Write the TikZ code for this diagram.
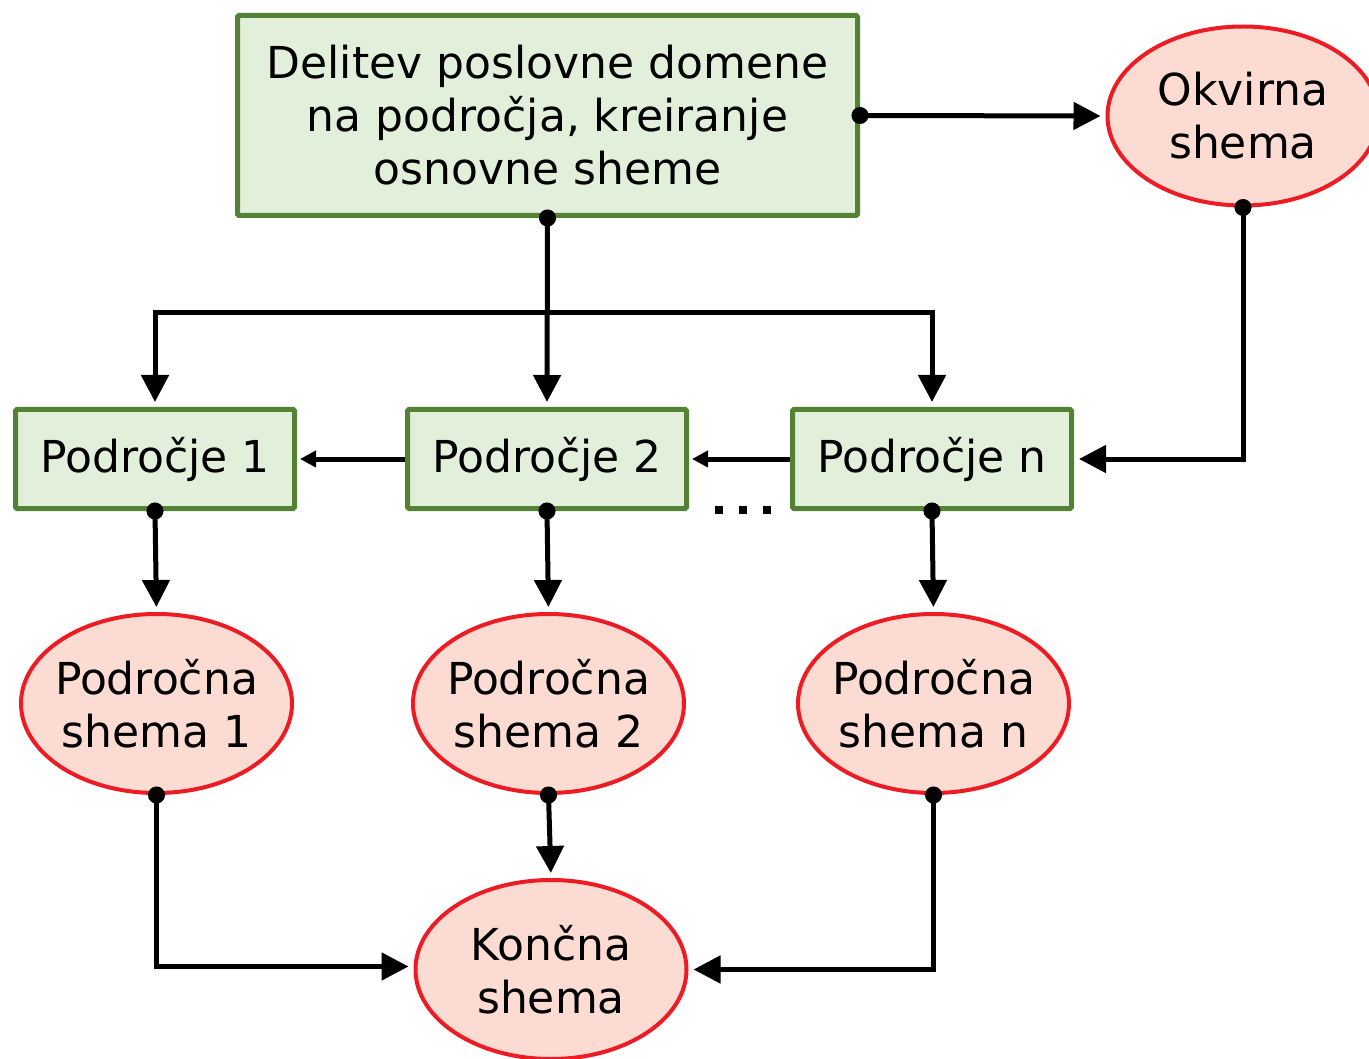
\documentclass[tikz,border=0pt]{standalone}
\usepackage{fontspec}
\setmainfont{DejaVu Sans}
\usetikzlibrary{arrows.meta,shapes.geometric}
\definecolor{boxgreen}{RGB}{84,130,53}
\definecolor{boxfill}{RGB}{226,239,218}
\definecolor{ovalred}{RGB}{237,28,36}
\definecolor{ovalfill}{RGB}{251,219,210}
\begin{document}
\begin{tikzpicture}[x=1pt,y=-1pt,
  txt/.style={align=center,font=\fontsize{44}{53}\selectfont},
  stagebox/.style={txt,draw=boxgreen,fill=boxfill,line width=5pt,rounded corners=1.5pt,inner sep=0pt},
  schema/.style={txt,ellipse,draw=ovalred,fill=ovalfill,line width=4pt,
                 inner xsep=-14pt,inner ysep=0pt,
                 minimum width=271pt,minimum height=179pt},
  link/.style={line width=5pt},
  flow/.style={link,{Circle[length=17pt]}-{Triangle[length=27pt,width=27pt]},
               shorten <=-8.5pt,shorten >=5pt},
  plain/.style={link,-{Triangle[length=27pt,width=27pt]},shorten >=5pt},
  side/.style={link,-{Triangle[length=16pt,width=16pt]},shorten >=3pt}
]
\useasboundingbox (0,0) rectangle (1369,1059);

% main step and frame schema
\node[stagebox,minimum width=620pt,minimum height=200pt] (top) at (547.5,115.5)
  {Delitev poslovne domene\\na področja, kreiranje\\ osnovne sheme};
\node[schema] (frame) at (1243,116) {Okvirna\\shema};

% domain areas
\node[stagebox,minimum width=279pt,minimum height=99pt] (p1) at (155,459) {Področje 1};
\node[stagebox,minimum width=279pt,minimum height=99pt] (p2) at (547,459) {Področje 2};
\node[stagebox,minimum width=279pt,minimum height=99pt] (pn) at (932,459) {Področje n};

% domain schemas
\node[schema] (s1) at (156.5,703.5) {Področna\\shema 1};
\node[schema] (s2) at (548.5,703.5) {Področna\\shema 2};
\node[schema] (sn) at (933.5,703.5) {Področna\\shema n};

% final schema
\node[schema] (fin) at (551,969.5) {Končna\\shema};

% ellipsis between areas
\foreach \xx in {719,743,767}
  \fill (\xx-4,506) rectangle (\xx+4,514);

% connectors
\coordinate (branch) at (547,313);
\draw[flow] (top.east) -- (frame.west);
\draw[flow] (top.south) -- (p2.north);
\draw[link,line cap=rect] (p1.north |- branch) -- (pn.north |- branch);
\draw[plain] (p1.north |- branch) -- (p1.north);
\draw[plain] (pn.north |- branch) -- (pn.north);
\draw[flow] (frame.south) |- (pn.east);
\draw[side] (pn.west) -- (p2.east);
\draw[side] (p2.west) -- (p1.east);
\draw[flow] (p1.south) -- (s1.north);
\draw[flow] (p2.south) -- (s2.north);
\draw[flow] (pn.south) -- (sn.north);
\draw[flow] (s1.south) |- ([yshift=3pt]fin.west);
\draw[flow] (s2.south) -- (fin.north);
\draw[flow] (sn.south) |- (fin.east);
\end{tikzpicture}
\end{document}
